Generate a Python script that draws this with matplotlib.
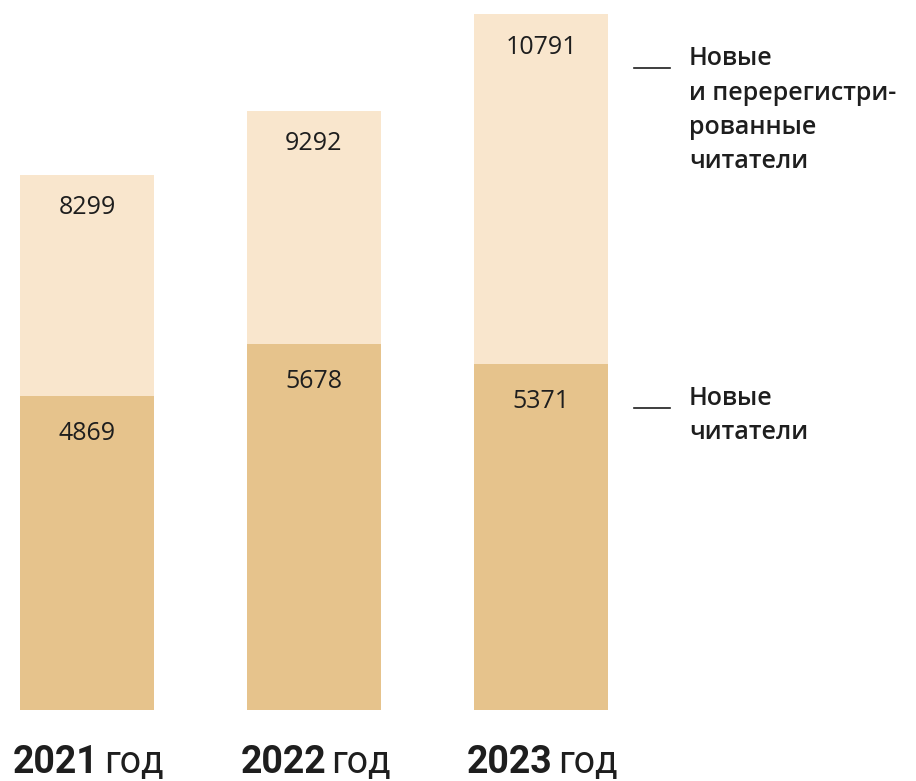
import matplotlib.pyplot as plt
from matplotlib.lines import Line2D

years = ["2021", "2022", "2023"]
new_readers = [4869, 5678, 5371]
all_readers = [8299, 9292, 10791]
legend_labels = ["Новые\nи перерегистри-\nрованные\nчитатели", "Новые\nчитатели"]

W, H = 916, 781
light = "#F9E6CD"
dark = "#E6C38C"
txt = "#1e1e1e"

fig = plt.figure(figsize=(W / 100, H / 100), dpi=100)
ax = fig.add_axes([0, 1 - 710 / H, 1, 696 / H])

x = range(len(years))
ax.bar(x, all_readers, width=134 / 227, color=light, zorder=1)
ax.bar(x, new_readers, width=134 / 227, color=dark, zorder=2)

ax.set_xlim(-87 / 227, (W - 87) / 227)
ax.set_ylim(0, max(all_readers))
ax.axis("off")

for i in x:
    ax.annotate(str(all_readers[i]), (i, all_readers[i]), xytext=(0, -33),
                textcoords="offset pixels", ha="center", va="center",
                fontsize=18, family="Open Sans", color=txt)
    ax.annotate(str(new_readers[i]), (i, new_readers[i]), xytext=(0, -38),
                textcoords="offset pixels", ha="center", va="center",
                fontsize=18, family="Open Sans", color=txt)
    # подписи годов
    ax.annotate(years[i], (i, 0), xytext=(12, -63), textcoords="offset pixels",
                ha="right", va="baseline", fontsize=27, family="Roboto",
                fontweight="bold", color=txt, annotation_clip=False)
    ax.annotate("год", (i, 0), xytext=(17, -63), textcoords="offset pixels",
                ha="left", va="baseline", fontsize=27, family="Roboto",
                color=txt, annotation_clip=False)

# легенда
for label, ly in zip(legend_labels, [68, 408]):
    fig.add_artist(Line2D([634 / W, 670 / W], [1 - ly / H, 1 - ly / H],
                          color=txt, lw=1.2))
    fig.text(689 / W, 1 - (ly - 22) / H, label, ha="left", va="top",
             fontsize=18, family="Open Sans", fontweight="semibold",
             color=txt, linespacing=1.5)

fig.savefig("out.png", dpi=100)
